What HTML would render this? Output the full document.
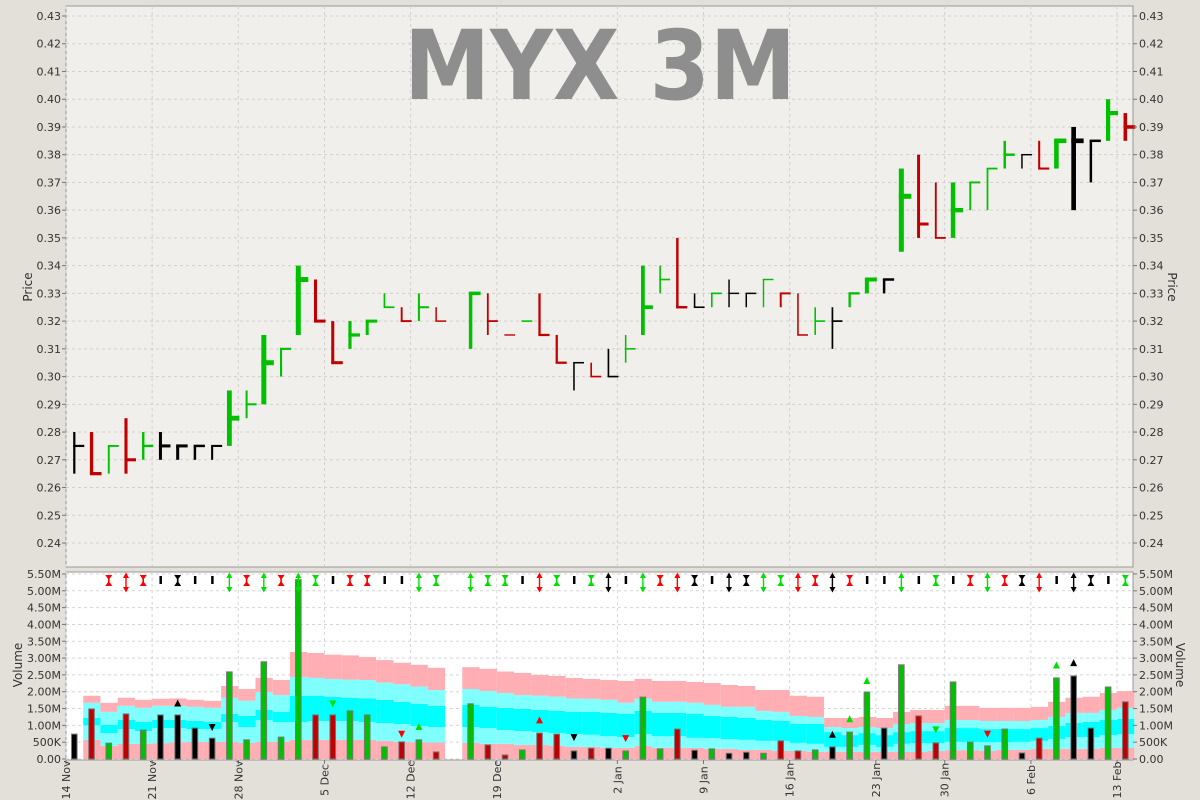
<!DOCTYPE html>
<html><head><meta charset="utf-8"><style>
html,body{margin:0;padding:0;background:#e3dfd9;}
svg{display:block;font-family:"DejaVu Sans","Liberation Sans",sans-serif;}
</style></head><body>
<svg id="chart" width="1200" height="800" viewBox="0 0 1200 800" xmlns="http://www.w3.org/2000/svg">
<rect x="0" y="0" width="1200" height="800" fill="#e3dfd9"/>
<rect x="66" y="6" width="1067" height="561" fill="#f0efeb" stroke="#9a9a9a"/>
<rect x="66" y="572" width="1067" height="188" fill="#ffffff" stroke="#9a9a9a"/>
<g id="grid"></g>
<text x="600" y="99" text-anchor="middle" font-size="96" font-weight="bold" fill="#8e8e8e" textLength="392" lengthAdjust="spacingAndGlyphs">MYX 3M</text>
<g id="bands"></g>
<g id="vbars"></g>
<g id="pbars"></g>
<g id="marks"></g>
<g id="axes"></g>
<text transform="translate(32,287) rotate(-90)" text-anchor="middle" font-size="12" fill="#333">Price</text>
<text transform="translate(1168,287) rotate(90)" text-anchor="middle" font-size="12" fill="#333">Price</text>
<text transform="translate(22,665) rotate(-90)" text-anchor="middle" font-size="12" fill="#333">Volume</text>
<text transform="translate(1176,665) rotate(90)" text-anchor="middle" font-size="12" fill="#333">Volume</text>
</svg>
<script>
const highs=[0.28,0.28,0.275,0.285,0.28,0.28,0.275,0.275,0.275,0.295,0.295,0.315,0.31,0.34,0.335,0.32,0.32,0.32,0.33,0.325,0.33,0.325,null,0.33,0.33,0.315,0.32,0.33,0.315,0.305,0.305,0.31,0.315,0.34,0.34,0.35,0.33,0.33,0.335,0.33,0.335,0.33,0.33,0.325,0.325,0.33,0.335,0.335,0.375,0.38,0.37,0.37,0.37,0.375,0.385,0.38,0.385,0.385,0.39,0.385,0.40,0.395];
const lows=[0.265,0.265,0.265,0.265,0.27,0.27,0.27,0.27,0.27,0.275,0.285,0.29,0.30,0.315,0.32,0.305,0.31,0.315,0.325,0.32,0.32,0.32,null,0.31,0.315,0.315,0.32,0.315,0.305,0.295,0.30,0.30,0.305,0.315,0.33,0.325,0.325,0.325,0.325,0.325,0.325,0.325,0.315,0.315,0.31,0.325,0.33,0.33,0.345,0.35,0.35,0.35,0.36,0.36,0.375,0.375,0.375,0.375,0.36,0.37,0.385,0.385];
const closes=[0.275,0.265,0.275,0.27,0.275,0.275,0.275,0.275,0.275,0.285,0.29,0.305,0.31,0.335,0.32,0.305,0.315,0.32,0.325,0.32,0.325,0.32,null,0.33,0.32,0.315,0.32,0.315,0.305,0.305,0.30,0.30,0.31,0.325,0.335,0.325,0.325,0.33,0.33,0.33,0.335,0.33,0.315,0.32,0.32,0.33,0.335,0.335,0.365,0.355,0.35,0.36,0.37,0.375,0.38,0.38,0.375,0.385,0.385,0.385,0.395,0.39];
const volumes=[0.74,1.49,0.47,1.34,0.86,1.31,1.31,0.92,0.62,2.59,0.57,2.89,0.65,5.33,1.31,1.31,1.43,1.31,0.36,0.51,0.57,0.21,null,1.64,0.42,0.12,0.27,0.77,0.74,0.24,0.32,0.32,0.24,1.84,0.30,0.89,0.26,0.30,0.17,0.20,0.17,0.54,0.24,0.27,0.36,0.80,1.99,0.92,2.80,1.28,0.48,2.29,0.50,0.39,0.89,0.18,0.62,2.41,2.47,0.92,2.14,1.70];
const band1=[null,0.57,0.39,0.45,0.45,0.47,0.50,0.51,0.51,0.51,0.48,0.51,0.51,0.57,0.57,0.57,0.57,0.57,0.54,0.51,0.50,0.49,null,0.48,0.45,0.45,0.42,0.42,0.39,0.36,0.36,0.33,0.33,0.39,0.33,0.33,0.33,0.30,0.30,0.27,0.27,0.24,0.24,0.21,0.21,0.21,0.21,0.21,0.21,0.21,0.24,0.26,0.26,0.24,0.27,0.27,0.30,0.30,0.30,0.30,0.33,0.33];
const band2=[null,1.00,0.77,0.89,0.83,0.92,0.92,0.89,0.89,1.10,0.95,1.16,1.10,1.10,1.13,1.13,1.13,1.10,1.07,1.04,0.98,0.95,null,0.95,0.92,0.86,0.83,0.80,0.77,0.74,0.72,0.68,0.65,0.74,0.68,0.68,0.63,0.62,0.59,0.57,0.54,0.54,0.48,0.45,0.36,0.36,0.42,0.36,0.45,0.47,0.47,0.51,0.51,0.50,0.50,0.51,0.54,0.59,0.65,0.65,0.71,0.74];
const band3=[null,1.22,1.01,1.16,1.10,1.16,1.16,1.13,1.10,1.34,1.28,1.46,1.40,1.88,1.88,1.85,1.82,1.80,1.76,1.70,1.64,1.58,null,1.61,1.55,1.52,1.49,1.46,1.43,1.40,1.40,1.37,1.34,1.43,1.37,1.37,1.34,1.28,1.25,1.22,1.16,1.13,1.04,1.04,0.80,0.71,0.77,0.71,0.80,0.83,0.83,0.92,0.92,0.89,0.89,0.89,0.92,0.98,1.07,1.10,1.16,1.19];
const band4=[null,1.67,1.40,1.58,1.52,1.58,1.58,1.55,1.52,1.82,1.73,1.99,1.90,2.44,2.41,2.38,2.36,2.35,2.27,2.22,2.15,2.05,null,2.08,2.02,1.96,1.90,1.88,1.85,1.80,1.79,1.76,1.67,1.80,1.70,1.70,1.67,1.61,1.55,1.55,1.43,1.40,1.28,1.25,0.95,0.92,0.95,0.92,1.04,1.07,1.07,1.16,1.16,1.13,1.13,1.13,1.16,1.25,1.37,1.37,1.46,1.52];
const band5=[null,1.88,1.67,1.82,1.76,1.79,1.80,1.76,1.73,2.17,2.08,2.41,2.35,3.18,3.15,3.10,3.08,3.03,2.94,2.86,2.80,2.71,null,2.73,2.68,2.60,2.56,2.50,2.47,2.41,2.38,2.35,2.32,2.38,2.32,2.32,2.29,2.26,2.20,2.17,2.05,2.05,1.88,1.85,1.22,1.22,1.25,1.22,1.40,1.46,1.46,1.58,1.58,1.52,1.52,1.52,1.55,1.70,1.82,1.85,1.96,2.02];
const signals=["","","rh","rd","rh","ki","kh","ki","ki","gd","rh","gd","rh","gd","gh","ki","rh","rh","ki","ki","gd","gh","","gd","gh","gh","ki","rd","gh","ki","gh","kd","ki","gd","rh","rd","kh","ki","kd","kh","gd","gh","rd","rh","kd","rh","ki","ki","gd","ki","gh","ki","rh","gd","rh","kh","rd","ki","kd","kh","ki","gh"];
const triDays=[6,8,15,19,20,27,29,32,44,45,46,50,53,57,58];
const triLevels=[1.65,0.95,1.65,0.75,0.95,1.15,0.65,0.62,0.72,1.18,2.32,0.88,0.75,2.78,2.85];
const triColors=["k","k","g","r","g","r","k","r","k","g","g","g","r","g","k"];
const triDirs=["u","d","d","d","u","u","d","d","u","u","u","d","d","u","u"];
const priceTicks=[0.24,0.25,0.26,0.27,0.28,0.29,0.30,0.31,0.32,0.33,0.34,0.35,0.36,0.37,0.38,0.39,0.40,0.41,0.42,0.43];
const volTicks=[0,0.5,1,1.5,2,2.5,3,3.5,4,4.5,5,5.5];
const volTickLabels=["0.00","500K","1.00M","1.50M","2.00M","2.50M","3.00M","3.50M","4.00M","4.50M","5.00M","5.50M"];
const dateIdx=[0,5,10,15,20,25,32,37,42,47,51,56,61];
const dateLabels=["14 Nov","21 Nov","28 Nov","5 Dec","12 Dec","19 Dec","2 Jan","9 Jan","16 Jan","23 Jan","30 Jan","6 Feb","13 Feb"];

const NS="http://www.w3.org/2000/svg";
const STEP=17.23;
function xg(i){return 66+i*STEP;}
function xc(i){return 66+8.3+i*STEP;}
function yp(p){return 16+(0.43-p)*2773.7;}
function yv(v){return 759-v*33.64;}
const COL={g:"#00c000",r:"#c00000",k:"#000000"};
function mk(tag,attrs,parent){const e=document.createElementNS(NS,tag);for(const k in attrs)e.setAttribute(k,attrs[k]);parent.appendChild(e);return e;}
const grid=document.getElementById('grid'),bandsG=document.getElementById('bands'),vb=document.getElementById('vbars'),pb=document.getElementById('pbars'),marks=document.getElementById('marks'),axes=document.getElementById('axes');

priceTicks.forEach((p,k)=>{
  const y=yp(p);
  const l=mk('line',{x1:66,x2:1133,y1:y,y2:y,stroke:"#d0d0d0","stroke-dasharray":"3,3"},grid);
  
  
  const t1=mk('text',{x:61,y:y+4,"text-anchor":"end","font-size":"11",fill:"#333"},axes);
  t1.textContent=p.toFixed(2);
  
  
  const t2=mk('text',{x:1139,y:y+4,"font-size":"11",fill:"#333"},axes);
  t2.textContent=p.toFixed(2);
  
  
  mk('line',{x1:62,x2:66,y1:y,y2:y,stroke:"#777"},axes);
  mk('line',{x1:1133,x2:1137,y1:y,y2:y,stroke:"#777"},axes);
});
volTicks.forEach((v,k)=>{
  const y=yv(v);
  const l=mk('line',{x1:66,x2:1133,y1:y,y2:y,stroke:"#d6d6d6","stroke-dasharray":"3,3"},grid);
  
  
  const t1=mk('text',{x:61,y:y+4,"text-anchor":"end","font-size":"11",fill:"#333"},axes);
  t1.textContent=volTickLabels[k];
  
  
  const t2=mk('text',{x:1139,y:y+4,"font-size":"11",fill:"#333"},axes);
  t2.textContent=volTickLabels[k];
  
  
  mk('line',{x1:62,x2:66,y1:y,y2:y,stroke:"#777"},axes);
  mk('line',{x1:1133,x2:1137,y1:y,y2:y,stroke:"#777"},axes);
});
dateIdx.forEach((d,k)=>{
  const x=xg(d);
  const l1=mk('line',{x1:x,x2:x,y1:6,y2:567,stroke:"#d0d0d0","stroke-dasharray":"3,3"},grid);
  
  
  mk('line',{x1:x,x2:x,y1:572,y2:760,stroke:"#d6d6d6","stroke-dasharray":"3,3"},grid);
  mk('line',{x1:x,x2:x,y1:760,y2:764,stroke:"#777"},axes);
  const t=mk('text',{transform:`translate(${x+4},780) rotate(-90)`,"text-anchor":"middle","font-size":"11",fill:"#333"},axes);
  t.textContent=dateLabels[k];
  
  
});

const bandArrays=[band1,band2,band3,band4,band5];
const bandColors=["#ffaeb4","#80ffff","#00ffff","#80ffff","#ffaeb4"];
for(let i=0;i<band5.length;i++){
  if(band5[i]==null)continue;
  let prev=0;
  for(let b=0;b<5;b++){
    const v=bandArrays[b][i];
    const r=mk('rect',{x:xg(i),y:yv(v),width:STEP,height:yv(prev)-yv(v),fill:bandColors[b]},bandsG);
    
    
    prev=v;
  }
}
function colorOf(i){
  let p=i-1;while(p>=0&&closes[p]==null)p--;
  if(p<0)return COL.k;
  if(closes[i]>closes[p])return COL.g;
  if(closes[i]<closes[p])return COL.r;
  return COL.k;
}
for(let i=0;i<closes.length;i++){
  if(closes[i]==null)continue;
  const c=colorOf(i), x=xc(i);
  const w=Math.max(1.3,Math.min(5,1.2+volumes[i]*1.4));
  const g=mk('g',{},pb);
  
  
  const yh=yp(highs[i]),yl=yp(lows[i]),yc=yp(closes[i]);
  if(yl-yh>0.5) mk('rect',{x:x-w/2,y:yh,width:w,height:yl-yh,fill:c},g);
  mk('rect',{x:x-w/2,y:yc-w/2,width:10+w/2,height:w,fill:c},g);
  const vbx=mk('rect',{x:x-2.8,y:yv(volumes[i]),width:5.6,height:yv(0)-yv(volumes[i]),fill:c,stroke:"#777","stroke-width":"1"},vb);
  
  
}
const SIG={g:"#00e000",r:"#ff0000",k:"#000000"};
signals.forEach((s,i)=>{
  if(!s)return;
  const c=SIG[s[0]],t=s[1],x=xc(i);
  const g=mk('g',{},marks);
  
  
  if(t==='i'){mk('rect',{x:x-1,y:576,width:2.5,height:8,fill:c},g);}
  else if(t==='h'){
    mk('rect',{x:x-0.8,y:577,width:1.6,height:7,fill:c},g);
    mk('path',{d:`M${x-3.5} 575 L${x+3.5} 575 L${x} 580 Z M${x-3.5} 586 L${x+3.5} 586 L${x} 581 Z`,fill:c},g);
  } else {
    mk('rect',{x:x-0.7,y:574,width:1.4,height:17,fill:c},g);
    mk('path',{d:`M${x-3} 578 L${x+3} 578 L${x} 572.5 Z M${x-3} 587 L${x+3} 587 L${x} 592.5 Z`,fill:c},g);
  }
});
triDays.forEach((d,k)=>{
  const x=xc(d),y=yv(triLevels[k]),c=SIG[triColors[k]];
  const p=triDirs[k]==='u'?`M${x-3.5} ${y+3} L${x+3.5} ${y+3} L${x} ${y-4} Z`:`M${x-3.5} ${y-3} L${x+3.5} ${y-3} L${x} ${y+4} Z`;
  const e=mk('path',{d:p,fill:c},marks);
  
  
});
</script>
</body></html>
